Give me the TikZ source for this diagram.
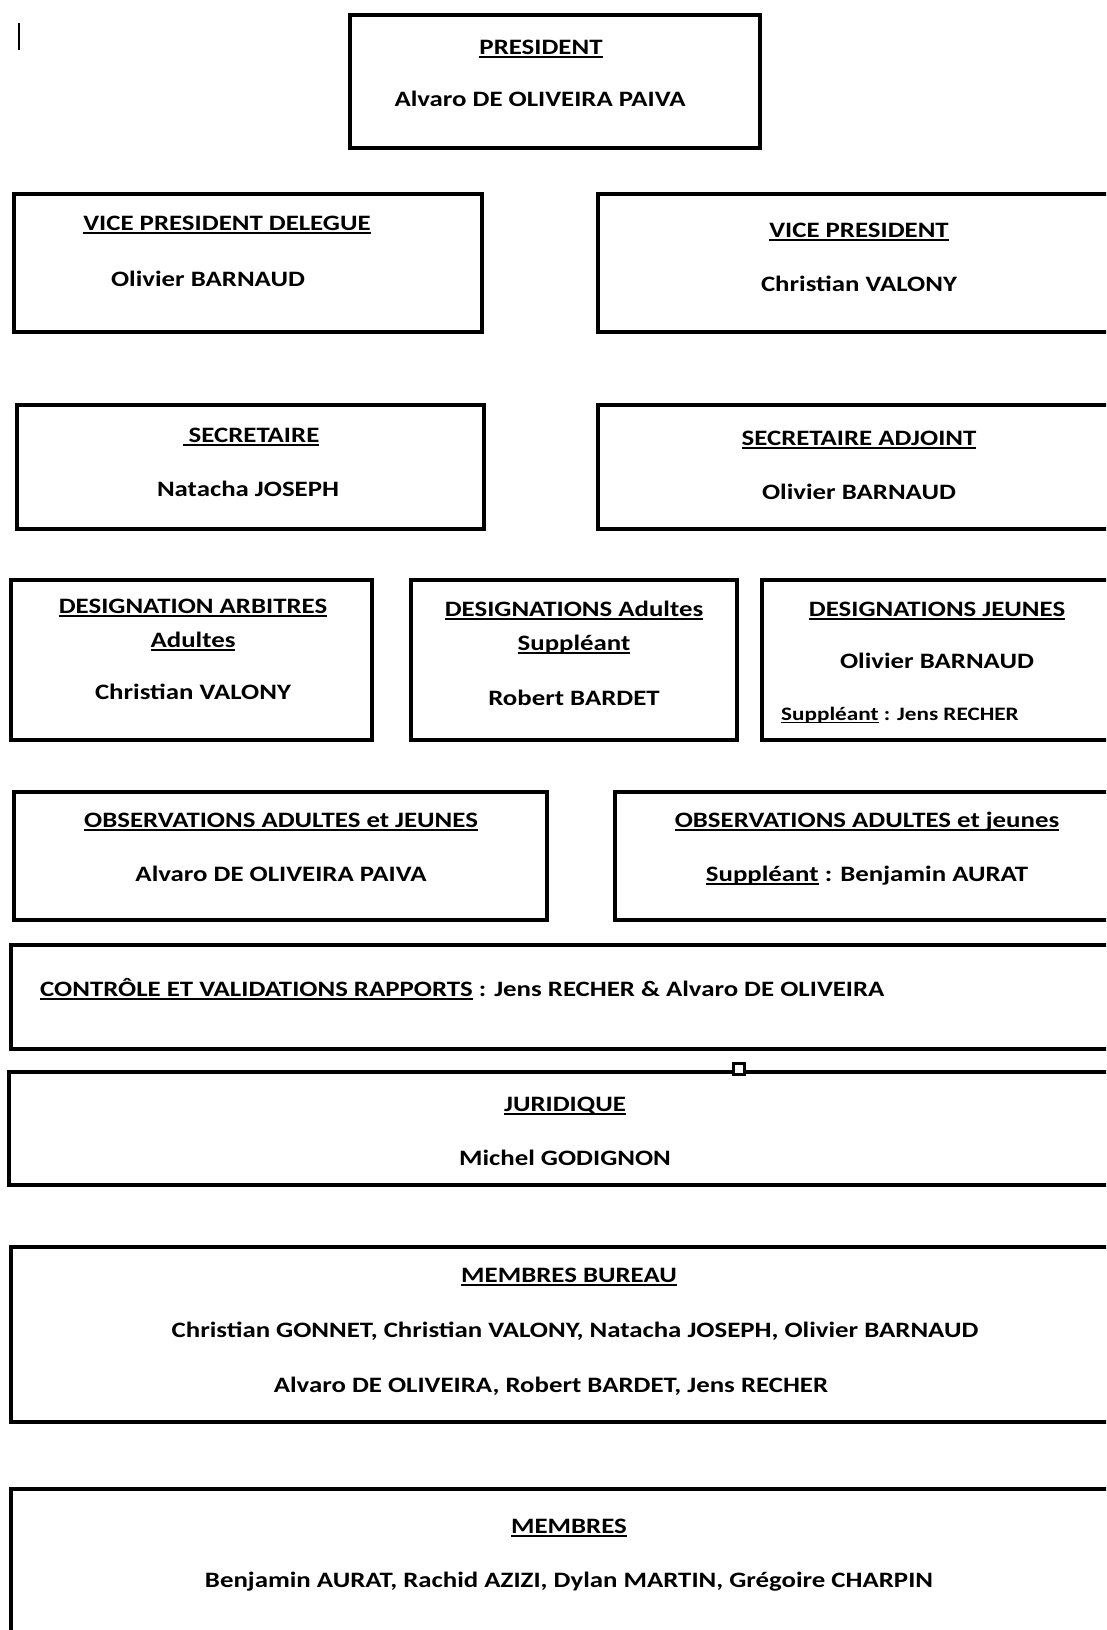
\documentclass[tikz,border=0pt]{standalone}
\usepackage{fontspec}
\setmainfont{Carlito}[FakeStretch=1.22]
\usetikzlibrary{positioning}
% underlined heading
\newcommand{\titre}[1]{\setbox0\hbox{#1}\rlap{\rule[-0.16em]{\wd0}{0.085em}}\box0\relax}
\tikzset{
  every node/.style={font=\bfseries\fontsize{22}{26}\selectfont},
  cadre/.style={draw, rectangle, line width=3.2pt, inner sep=0pt},
  txt/.style={anchor=mid, inner sep=0pt, yshift=-3pt}
}

\begin{document}
\begin{tikzpicture}[x=1pt, y=-1pt]
  \useasboundingbox (0,0) rectangle (1106,1630);
  \clip (0,0) rectangle (1106,1630);

  % cursor mark
  \coordinate (m1) at (19,23);
  \coordinate (m2) at (19,50);
  \draw[line width=2pt] (m1) -- (m2);

  % President
  \node[cadre, minimum width=410pt, minimum height=133pt] (pres) at (555,81.5) {};
  \node[txt] (presT) at (541,49) {\titre{PRESIDENT}};
  \node[txt] (presN) at (540,101) {Alvaro DE OLIVEIRA PAIVA};

  % Vice presidents
  \node[cadre, minimum width=468pt, minimum height=138pt] (vpd) at (248,263) {};
  \node[txt] (vpdT) at (227,225) {\titre{VICE PRESIDENT DELEGUE}};
  \node[txt] (vpdN) at (208,281) {Olivier BARNAUD};
  \node[cadre, minimum width=522pt, minimum height=138pt] (vp) at (859,263) {};
  \node[txt] (vpT) at (859,232) {\titre{VICE PRESIDENT}};
  \node[txt] (vpN) at (859,286) {Christian VALONY};

  % Secretaires
  \node[cadre, minimum width=467pt, minimum height=124pt] (sec) at (250.5,467) {};
  \node[txt] (secT) at (251,437) {\titre{\ SECRETAIRE}};
  \node[txt] (secN) at (248,491) {Natacha JOSEPH};
  \node[cadre, minimum width=522pt, minimum height=124pt] (seca) at (859,467) {};
  \node[txt] (secaT) at (859,440) {\titre{SECRETAIRE ADJOINT}};
  \node[txt] (secaN) at (859,494) {Olivier BARNAUD};

  % Designations
  \node[cadre, minimum width=361pt, minimum height=160pt] (desA) at (191.5,660) {};
  \node[txt] (desAT) at (193,608) {\titre{DESIGNATION ARBITRES}};
  \node[txt] (desAU) at (193,642) {\titre{Adultes}};
  \node[txt] (desAN) at (193,694) {Christian VALONY};
  \node[cadre, minimum width=326pt, minimum height=160pt] (desB) at (574,660) {};
  \node[txt] (desBT) at (574,611) {\titre{DESIGNATIONS Adultes}};
  \node[txt] (desBU) at (574,645) {\titre{Suppléant}};
  \node[txt] (desBN) at (574,700) {Robert BARDET};
  \node[cadre, minimum width=358pt, minimum height=160pt] (desJ) at (941,660) {};
  \node[txt] (desJT) at (937,611) {\titre{DESIGNATIONS JEUNES}};
  \node[txt] (desJN) at (937,663) {Olivier BARNAUD};
  \node[txt, anchor=mid west, font=\bfseries\fontsize{19}{22}\selectfont] (desJS) at (781,715) {\titre{Suppléant} : Jens RECHER};

  % Observations
  \node[cadre, minimum width=533pt, minimum height=128pt] (obs1) at (280.5,856) {};
  \node[txt] (obs1T) at (281,822) {\titre{OBSERVATIONS ADULTES et JEUNES}};
  \node[txt] (obs1N) at (281,876) {Alvaro DE OLIVEIRA PAIVA};
  \node[cadre, minimum width=505pt, minimum height=128pt] (obs2) at (867.5,856) {};
  \node[txt] (obs2T) at (867,822) {\titre{OBSERVATIONS ADULTES et jeunes}};
  \node[txt] (obs2N) at (867,876) {\titre{Suppléant} : Benjamin AURAT};

  % Controle
  \node[cadre, minimum width=1109pt, minimum height=104pt] (ctrl) at (565.5,997) {};
  \node[txt, anchor=mid west] (ctrlT) at (40,991) {\titre{CONTRÔLE ET VALIDATIONS RAPPORTS} : Jens RECHER \& Alvaro DE OLIVEIRA};

  % Juridique
  \node[cadre, minimum width=1111pt, minimum height=113pt] (jur) at (564.5,1128.5) {};
  \node[draw, rectangle, line width=3pt, fill=white, minimum size=11pt, inner sep=0pt] (poignee) at (739,1069) {};
  \node[txt] (jurT) at (565,1106) {\titre{JURIDIQUE}};
  \node[txt] (jurN) at (565,1160) {Michel GODIGNON};

  % Membres bureau
  \node[cadre, minimum width=1109pt, minimum height=175pt] (bur) at (565.5,1334.5) {};
  \node[txt] (burT) at (569,1277) {\titre{MEMBRES BUREAU}};
  \node[txt] (burA) at (575,1332) {Christian GONNET, Christian VALONY, Natacha JOSEPH, Olivier BARNAUD};
  \node[txt] (burB) at (551,1387) {Alvaro DE OLIVEIRA, Robert BARDET, Jens RECHER};

  % Membres
  \node[cadre, minimum width=1109pt, minimum height=171pt] (memb) at (565.5,1574.5) {};
  \node[txt] (membT) at (569,1528) {\titre{MEMBRES}};
  \node[txt] (membA) at (569,1582) {Benjamin AURAT, Rachid AZIZI, Dylan MARTIN, Grégoire CHARPIN};
\end{tikzpicture}
\end{document}
